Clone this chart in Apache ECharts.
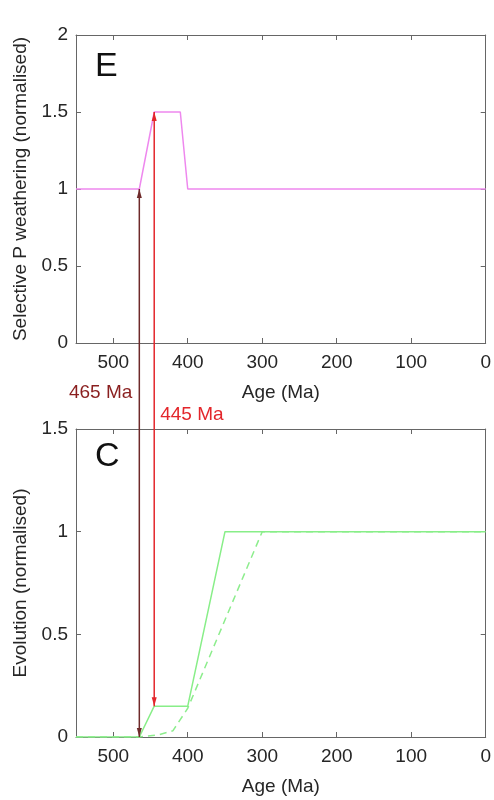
<!DOCTYPE html>
<html>
<head>
<meta charset="utf-8">
<script src="https://cdn.jsdelivr.net/npm/echarts@6/dist/echarts.min.js"></script>
<style>
html,body{margin:0;padding:0;background:#fff;}
#c{width:494px;height:800px;}
</style>
</head>
<body>
<div id="c"></div>
<script>
// ---- data ----
const agesP = [550, 465, 445, 410, 400, 0];
const selectiveP = [1, 1, 1.5, 1.5, 1, 1];
const agesEvo = [550, 465, 445, 400, 350, 0];
const evolution = [0, 0, 0.15, 0.15, 1, 1];
const agesEvo2 = [550, 465, 440, 420, 400, 300, 0];
const evolution2 = [0, 0, 0.01, 0.03, 0.14, 1, 1];
const eventAges = [465, 445];
const eventLabels = ['465 Ma', '445 Ma'];
const eventTopVals = [1, 1.5];
const eventBottomVals = [0, 0.15];

const FONT = 'Liberation Sans, Arial, sans-serif';
const AX = '#666';
const TXT = '#262626';

function zip(a, b) { return a.map((v, i) => [v, b[i]]); }

function xAx(grid, main) {
  return {
    type: 'value', gridIndex: grid, min: 0, max: 550, interval: 100, inverse: true,
    position: main ? 'bottom' : 'top',
    name: main ? 'Age (Ma)' : '', nameLocation: 'middle', nameGap: 40,
    nameTextStyle: { fontFamily: FONT, fontSize: 19, color: TXT },
    axisLine: { show: true, onZero: false, lineStyle: { color: AX, width: 1 } },
    axisTick: { show: true, inside: true, length: 5, lineStyle: { color: AX } },
    axisLabel: { show: main, showMaxLabel: false, margin: 10, fontFamily: FONT, fontSize: 19, color: TXT },
    splitLine: { show: false }
  };
}
function yAx(grid, main, max, name) {
  return {
    type: 'value', gridIndex: grid, min: 0, max: max, interval: 0.5,
    position: main ? 'left' : 'right',
    name: main ? name : '', nameLocation: 'middle', nameGap: 46,
    nameTextStyle: { fontFamily: FONT, fontSize: 19, color: TXT },
    axisLine: { show: true, onZero: false, lineStyle: { color: AX, width: 1 } },
    axisTick: { show: true, inside: true, length: 5, lineStyle: { color: AX } },
    axisLabel: { show: main, margin: 8, fontFamily: FONT, fontSize: 19, color: TXT },
    splitLine: { show: false }
  };
}

const chart = echarts.init(document.getElementById('c'), null, { renderer: 'canvas' });
chart.setOption({
  animation: false,
  backgroundColor: '#fff',
  grid: [
    { left: 76, right: 5, top: 35, height: 308 },
    { left: 76, right: 5, top: 429, height: 308 }
  ],
  xAxis: [xAx(0, true), xAx(0, false), xAx(1, true), xAx(1, false)],
  yAxis: [
    yAx(0, true, 2, 'Selective P weathering (normalised)'), yAx(0, false, 2, ''),
    yAx(1, true, 1.5, 'Evolution (normalised)'), yAx(1, false, 1.5, '')
  ],
  series: [
    { type: 'line', xAxisIndex: 0, yAxisIndex: 0, data: zip(agesP, selectiveP), symbol: 'none',
      lineStyle: { color: '#ee88ee', width: 1.5 }, z: 3 },
    { type: 'line', xAxisIndex: 2, yAxisIndex: 2, data: zip(agesEvo2, evolution2), symbol: 'none',
      lineStyle: { color: '#8ded8d', width: 1.5, type: [7, 5] }, z: 3 },
    { type: 'line', xAxisIndex: 2, yAxisIndex: 2, data: zip(agesEvo, evolution), symbol: 'none',
      lineStyle: { color: '#88ee88', width: 1.5 }, z: 3 }
  ]
});

function arrowHead(x, y, dir, color) {
  // dir: -1 up, +1 down; tip at (x,y)
  const L = 9, W = 2.5;
  return { type: 'polygon', z: 20, shape: { points: [[x, y], [x - W, y - dir * L], [x + W, y - dir * L]] },
    style: { fill: color } };
}

const colors = ['#6e2a2a', '#e3262b'];
const labelColors = ['#8a1f1f', '#e3262b'];
const gEls = [];
eventAges.forEach((age, i) => {
  const pTop = chart.convertToPixel({ xAxisIndex: 0, yAxisIndex: 0 }, [age, eventTopVals[i]]);
  const pBot = chart.convertToPixel({ xAxisIndex: 2, yAxisIndex: 2 }, [age, eventBottomVals[i]]);
  gEls.push({ type: 'line', z: 19, shape: { x1: pTop[0], y1: pTop[1], x2: pBot[0], y2: pBot[1] },
    style: { stroke: colors[i], lineWidth: 1.5 } });
  gEls.push(arrowHead(pTop[0], pTop[1], -1, colors[i]));
  gEls.push(arrowHead(pBot[0], pBot[1], 1, colors[i]));
  const lx = i === 0 ? pTop[0] - 7 : pTop[0] + 6;
  const ly = i === 0 ? 393 : 415;
  gEls.push({ type: 'text', z: 21, x: lx, y: ly,
    style: { text: eventLabels[i], fill: labelColors[i], font: '19px ' + FONT,
      textAlign: i === 0 ? 'right' : 'left', textVerticalAlign: 'middle' } });
});
gEls.push({ type: 'text', z: 21, left: 95, top: 50, style: { text: 'E', fill: '#111', font: '34px ' + FONT } });
gEls.push({ type: 'text', z: 21, left: 95, top: 440, style: { text: 'C', fill: '#111', font: '34px ' + FONT } });
chart.setOption({ graphic: { elements: gEls } });
</script>
</body>
</html>
